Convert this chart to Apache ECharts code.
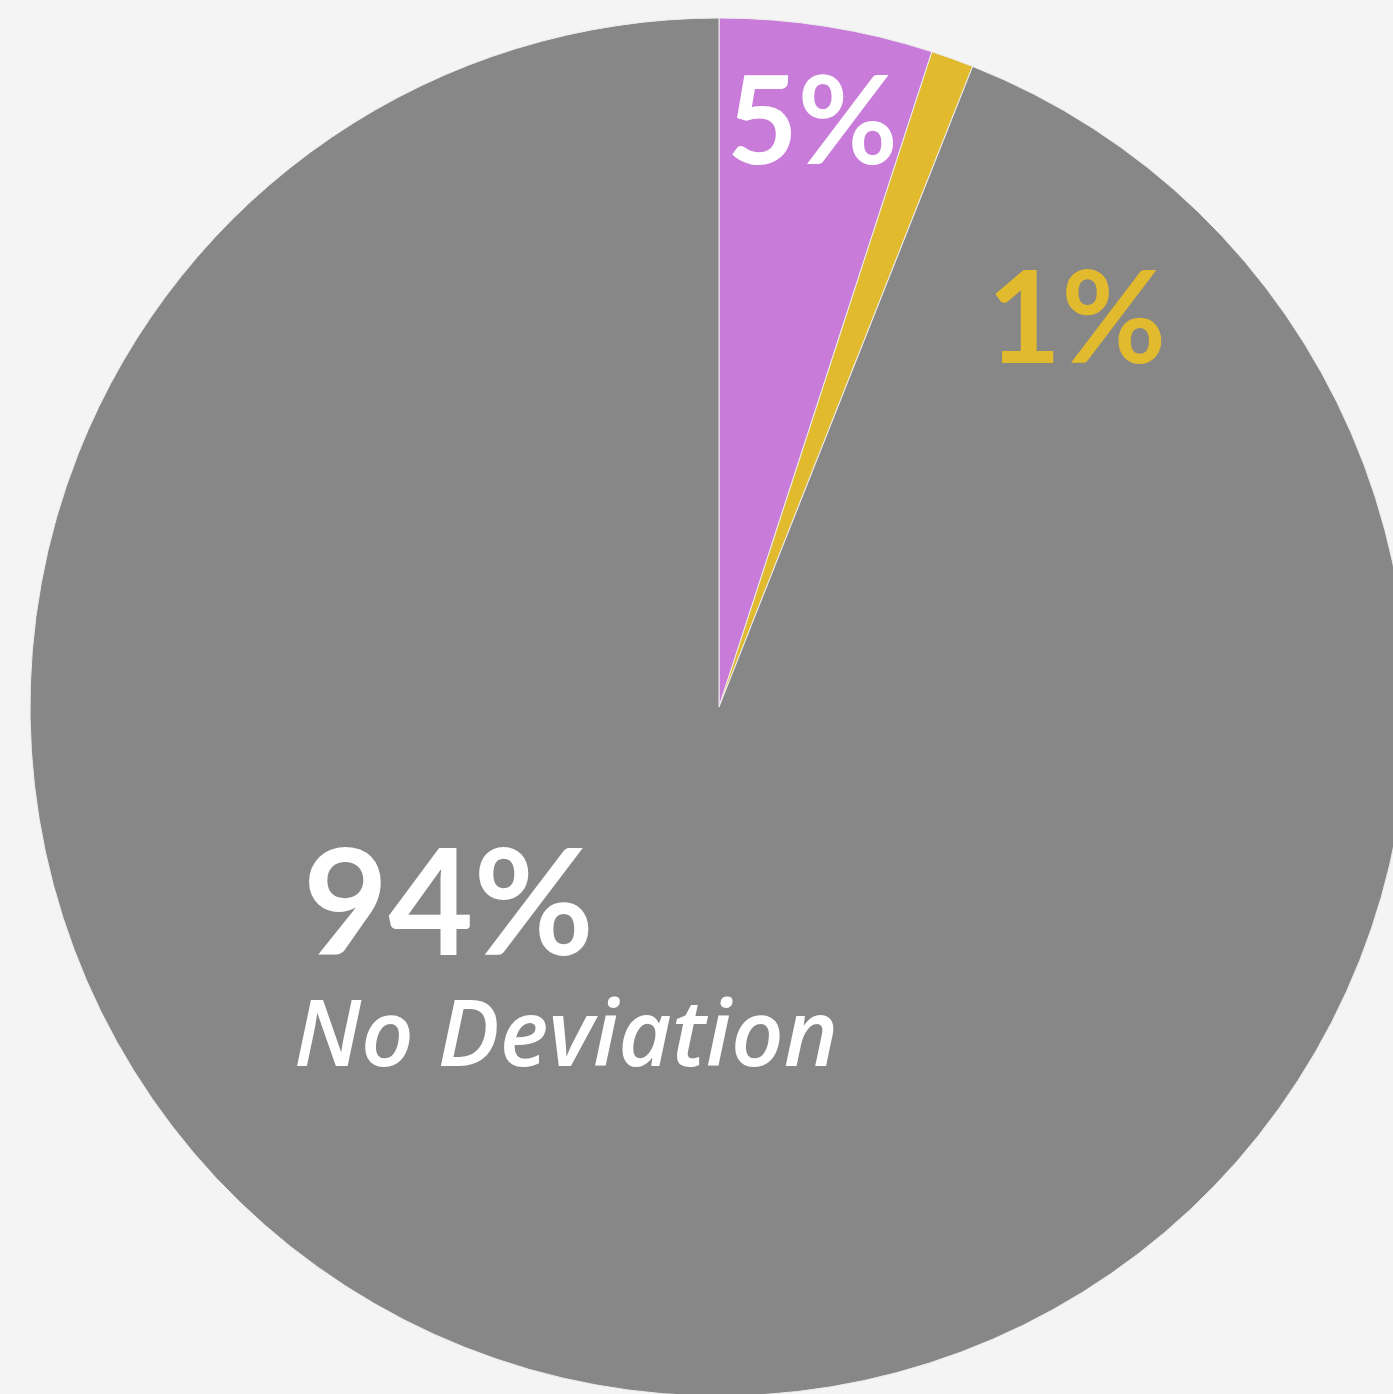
<!DOCTYPE html>
<html>
<head>
<meta charset="utf-8">
<script src="https://cdn.jsdelivr.net/npm/echarts@6/dist/echarts.min.js"></script>
<style>
html,body{margin:0;padding:0;background:#F4F4F4;}
#chart{width:1393px;height:1394px;}
</style>
</head>
<body>
<div id="chart"></div>
<script>
var categories = ['Deviation', 'Partial Deviation', 'No Deviation'];
var values = [5, 1, 94];
var colors = ['#C87BD8', '#E2BA2D', '#878787'];
var labelColors = ['#FFFFFF', '#E2BA2D', '#FFFFFF'];
var labelSizes = [122, 128, 145];
var labelPos = [[727, 125], [987, 322], [294, 962]];

var chart = echarts.init(document.getElementById('chart'));
var data = categories.map(function (c, i) {
  return {
    name: c,
    value: values[i],
    itemStyle: { color: colors[i] },
    label: { color: labelColors[i], fontSize: labelSizes[i] }
  };
});
chart.setOption({
  backgroundColor: '#F4F4F4',
  animation: false,
  series: [{
    type: 'pie',
    center: [719, 707],
    radius: 689,
    startAngle: 90,
    clockwise: true,
    avoidLabelOverlap: false,
    itemStyle: { borderColor: '#EDEDED', borderWidth: 1 },
    label: {
      show: true,
      position: 'inside',
      fontFamily: 'Lato',
      fontWeight: 'bold',
      formatter: function (p) {
        if (p.dataIndex === 2) {
          return '{big|' + p.value + '%}\n{sub|' + p.name + '}';
        }
        return p.value + '%';
      },
      rich: {
        big: { fontSize: 147, fontWeight: 'bold', fontFamily: 'Lato', color: '#FFFFFF', lineHeight: 156, padding: [0, 0, 0, 9] },
        sub: { fontSize: 92, fontWeight: 600, fontStyle: 'italic', fontFamily: 'Open Sans', color: '#FFFFFF', lineHeight: 108 }
      }
    },
    labelLine: { show: false },
    labelLayout: function (p) {
      var pos = labelPos[p.dataIndex];
      return { x: pos[0], y: pos[1], align: 'left', verticalAlign: 'middle' };
    },
    data: data
  }]
});
</script>
</body>
</html>
